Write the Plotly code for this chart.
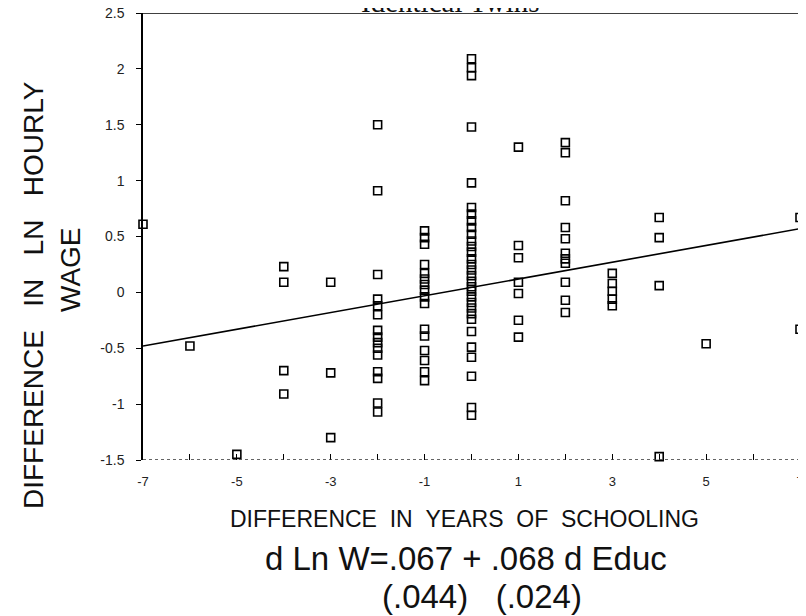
import plotly.graph_objects as go

# ---- data: difference in ln hourly wage, by difference in years of schooling
educ_cols = [-7, -6, -5, -4, -3, -2, -1, 0, 1, 2, 3, 4, 5, 7]
y_m7 = [0.61]
y_m6 = [-0.48]
y_m5 = [-1.45]
y_m4 = [0.23, 0.09, -0.70, -0.91]
y_m3 = [0.09, -0.72, -1.30]
y_m2 = [1.50, 0.91, 0.16, -0.06, -0.12, -0.20, -0.34, -0.40, -0.45, -0.50, -0.56, -0.71, -0.77, -0.99, -1.07]
y_m1 = [0.55, 0.49, 0.43, 0.25, 0.17, 0.12, 0.07, 0.02, -0.04, -0.10, -0.33, -0.39, -0.52, -0.61, -0.71, -0.79]
y_0 = [2.09, 2.01, 1.94, 1.48, 0.98, 0.76, 0.70, 0.64, 0.58, 0.52, 0.46, 0.41, 0.36, 0.30, 0.25, 0.20,
       0.15, 0.10, 0.05, 0.01, -0.04, -0.09, -0.14, -0.19, -0.24, -0.35, -0.49, -0.58, -0.75, -1.03, -1.10]
y_p1 = [1.30, 0.42, 0.31, 0.09, -0.01, -0.25, -0.40]
y_p2 = [1.34, 1.25, 0.82, 0.58, 0.48, 0.35, 0.30, 0.26, 0.09, -0.07, -0.18]
y_p3 = [0.17, 0.08, 0.01, -0.06, -0.12]
y_p4 = [0.67, 0.49, 0.06, -1.47]
y_p5 = [-0.46]
y_p7 = [0.67, -0.33]
col_values = [y_m7, y_m6, y_m5, y_m4, y_m3, y_m2, y_m1, y_0, y_p1, y_p2, y_p3, y_p4, y_p5, y_p7]

fit_x = [-7, 7]
fit_y = [-0.48, 0.57]

x_tickvals = list(range(-7, 8))
x_ticktext = ["-7", "", "-5", "", "-3", "", "-1", "", "1", "", "3", "", "5", "", "7"]
y_tickvals = [2.5, 2, 1.5, 1, 0.5, 0, -0.5, -1, -1.5]
y_ticktext = ["2.5", "2", "1.5", "1", "0.5", "0", "-0.5", "-1", "-1.5"]

NB = "\u00a0"
title_text = "Identical Twins"
ytitle_1 = (NB * 3).join(["DIFFERENCE", "IN", "LN", "HOURLY"])
ytitle_2 = "WAGE"
xtitle = (NB * 2).join(["DIFFERENCE", "IN", "YEARS", "OF", "SCHOOLING"])
eq_text = "d Ln W=.067 + .068 d Educ"
se_text = "(.044)" + NB * 3 + "(.024)"

# ---- build scatter
xs, ys = [], []
for xv, vals in zip(educ_cols, col_values):
    xs += [xv] * len(vals)
    ys += vals

# page body has an 8px margin: figure is 8px smaller and everything is placed in reference pixels - 8
OFF = 8
W, H = 806 - OFF, 616 - OFF
plot_l, plot_r, plot_t, plot_b = 143, 800, 13, 460   # reference pixels
L, T = plot_l - OFF, plot_t - OFF
R, B = W - (plot_r - OFF), H - (plot_b - OFF)
pw, ph = plot_r - plot_l, plot_b - plot_t


def px(x):
    return (x - plot_l) / pw


def py(y):
    return (plot_b - y) / ph


fig = go.Figure()
fig.add_trace(go.Scatter(
    x=fit_x, y=fit_y, mode="lines",
    line=dict(color="black", width=1.6), hoverinfo="skip", showlegend=False,
))
fig.add_trace(go.Scatter(
    x=xs, y=ys, mode="markers", cliponaxis=False,
    marker=dict(symbol="square-open", size=8, color="black", line=dict(width=1.6, color="black")),
    showlegend=False,
))

hand = "Liberation Sans"
ink = "#111"
ann = [
    dict(x=px(450), y=py(20), text=title_text, yanchor="bottom",
         font=dict(family="Liberation Serif", size=29, color=ink)),
    dict(x=px(33), y=py(295), text=ytitle_1, textangle=-90, yanchor="middle",
         font=dict(family=hand, size=28, color=ink)),
    dict(x=px(70), y=py(270), text=ytitle_2, textangle=-90, yanchor="middle",
         font=dict(family=hand, size=28, color=ink)),
    dict(x=px(464), y=py(519), text=xtitle, yanchor="middle",
         font=dict(family=hand, size=23, color=ink)),
    dict(x=px(466), y=py(558), text=eq_text, yanchor="middle",
         font=dict(family=hand, size=33, color=ink)),
    dict(x=px(482), y=py(596), text=se_text, yanchor="middle",
         font=dict(family=hand, size=33, color=ink)),
]
for a in ann:
    a.update(xref="paper", yref="paper", showarrow=False, xanchor="center")

shapes = [
    dict(type="line", xref="x", yref="y", x0=-7, x1=7, y0=2.5, y1=2.5, line=dict(color="black", width=1.5)),
    dict(type="line", xref="x", yref="y", x0=-7, x1=7, y0=-1.5, y1=-1.5,
         line=dict(color="#333", width=1.3, dash="dot")),
]

fig.update_layout(
    width=W, height=H,
    margin=dict(l=L, r=R, t=T, b=B, autoexpand=False),
    paper_bgcolor="white", plot_bgcolor="white",
    annotations=ann, shapes=shapes,
    xaxis=dict(range=[-7, 7], tickvals=x_tickvals, ticktext=x_ticktext, ticks="inside", ticklen=6,
               tickwidth=1.2, tickcolor="black", showgrid=False, zeroline=False, showline=False,
               ticklabelstandoff=12, ticklabeloverflow="allow",
               tickfont=dict(family="Liberation Sans", size=13, color="#222")),
    yaxis=dict(range=[-1.5, 2.5], tickvals=y_tickvals, ticktext=y_ticktext, ticks="outside", ticklen=5,
               tickwidth=1.2, tickcolor="black", showgrid=False, zeroline=False, showline=True,
               linecolor="black", linewidth=1.5, mirror=True, ticklabelstandoff=9,
               ticklabeloverflow="allow",
               tickfont=dict(family="Liberation Sans", size=14, color="#222")),
)

fig.write_html("out.html")
